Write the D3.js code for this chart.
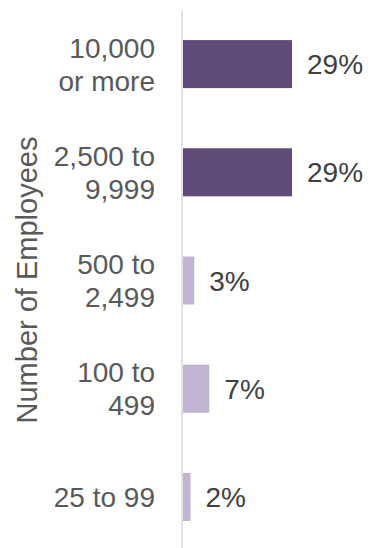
<!DOCTYPE html>
<html>
<head>
<meta charset="utf-8">
<script src="https://cdn.jsdelivr.net/npm/d3@7"></script>
<style>
  html, body { margin: 0; padding: 0; background: #ffffff; }
  svg { display: block; }
  text { font-family: "Liberation Sans", Arial, sans-serif; }
</style>
</head>
<body>
<svg id="chart" width="370" height="548"></svg>
<script>
// Share of organisations by number of employees
const categories = ["10,000\nor more", "2,500 to\n9,999", "500 to\n2,499", "100 to\n499", "25 to 99"];
const values = [29, 29, 3, 7, 2];
const groups = ["large", "large", "mid", "mid", "mid"];
const axisTitle = "Number of Employees";

const svg = d3.select("#chart");
const W = 370, H = 548;

const y = d3.scaleBand()
  .domain(categories)
  .range([10, 551])
  .paddingInner(0.556)
  .paddingOuter(0.278);

const x = d3.scaleLinear()
  .domain([0, 100])
  .range([183, 183 + 376]);

const color = d3.scaleOrdinal()
  .domain(["large", "mid"])
  .range(["#614b7a", "#c1b3d1"]);

const rows = categories.map((c, i) => ({ cat: c, value: values[i], group: groups[i] }));

// bars
svg.append("g")
  .selectAll("rect")
  .data(rows)
  .join("rect")
  .attr("x", x(0))
  .attr("y", d => y(d.cat))
  .attr("width", d => x(d.value) - x(0))
  .attr("height", y.bandwidth())
  .attr("fill", d => color(d.group));

// vertical category axis line
svg.append("line")
  .attr("x1", 182).attr("x2", 182)
  .attr("y1", 10).attr("y2", H)
  .attr("stroke", "#d9d9d9")
  .attr("stroke-width", 1.5);

// category labels (possibly two lines)
const fs = 28, lh = 33;
const labels = svg.append("g")
  .selectAll("text")
  .data(rows)
  .join("text")
  .attr("text-anchor", "end")
  .attr("font-size", fs)
  .attr("fill", "#595959");

labels.each(function(d) {
  const lines = d.cat.split("\n");
  const cy = y(d.cat) + y.bandwidth() / 2;
  const first = cy + 10 - (lines.length - 1) * lh / 2;
  d3.select(this).selectAll("tspan")
    .data(lines)
    .join("tspan")
    .attr("x", 155)
    .attr("y", (l, j) => first + j * lh)
    .text(l => l);
});

// value labels
svg.append("g")
  .selectAll("text")
  .data(rows)
  .join("text")
  .attr("x", d => x(d.value) + 15)
  .attr("y", d => y(d.cat) + y.bandwidth() / 2 + 10)
  .attr("font-size", fs)
  .attr("fill", "#404040")
  .text(d => d.value + "%");

// axis title
svg.append("text")
  .attr("transform", "translate(37,280) rotate(-90)")
  .attr("text-anchor", "middle")
  .attr("font-size", 29)
  .attr("fill", "#595959")
  .text(axisTitle);
</script>
</body>
</html>
